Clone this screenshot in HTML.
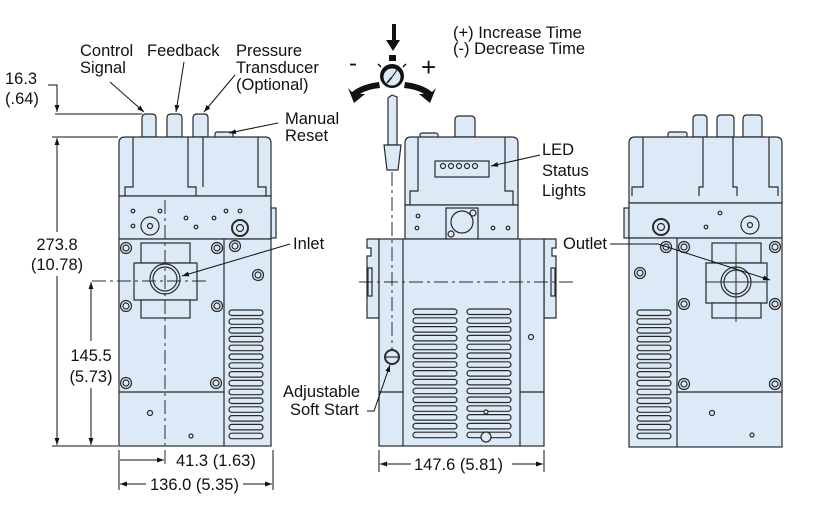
<!DOCTYPE html>
<html><head><meta charset="utf-8"><style>
html,body{margin:0;padding:0;background:#fff;}
svg{display:block;}
text{font-family:"Liberation Sans",Arial,sans-serif;font-size:16.5px;fill:#111;}
</style></head><body>
<svg width="816" height="509" viewBox="0 0 816 509" xmlns="http://www.w3.org/2000/svg">
<defs>
<marker id="ar" viewBox="0 0 10 10" refX="10" refY="5" markerWidth="7" markerHeight="7" orient="auto-start-reverse"><path d="M0,1.5 L10,5 L0,8.5 z" fill="#111"/></marker>
<g id="vent34">
<rect x="0" y="0" width="34" height="5.5" rx="2.75"/><rect x="0" y="8.8" width="34" height="5.5" rx="2.75"/><rect x="0" y="17.6" width="34" height="5.5" rx="2.75"/><rect x="0" y="26.4" width="34" height="5.5" rx="2.75"/><rect x="0" y="35.2" width="34" height="5.5" rx="2.75"/><rect x="0" y="44" width="34" height="5.5" rx="2.75"/><rect x="0" y="52.8" width="34" height="5.5" rx="2.75"/><rect x="0" y="61.6" width="34" height="5.5" rx="2.75"/><rect x="0" y="70.4" width="34" height="5.5" rx="2.75"/><rect x="0" y="79.2" width="34" height="5.5" rx="2.75"/><rect x="0" y="88" width="34" height="5.5" rx="2.75"/><rect x="0" y="96.8" width="34" height="5.5" rx="2.75"/><rect x="0" y="105.6" width="34" height="5.5" rx="2.75"/><rect x="0" y="114.4" width="34" height="5.5" rx="2.75"/><rect x="0" y="123.2" width="34" height="5.5" rx="2.75"/>
</g>
<g id="vent44">
<rect x="0" y="0" width="44" height="5.5" rx="2.75"/><rect x="0" y="8.8" width="44" height="5.5" rx="2.75"/><rect x="0" y="17.6" width="44" height="5.5" rx="2.75"/><rect x="0" y="26.4" width="44" height="5.5" rx="2.75"/><rect x="0" y="35.2" width="44" height="5.5" rx="2.75"/><rect x="0" y="44" width="44" height="5.5" rx="2.75"/><rect x="0" y="52.8" width="44" height="5.5" rx="2.75"/><rect x="0" y="61.6" width="44" height="5.5" rx="2.75"/><rect x="0" y="70.4" width="44" height="5.5" rx="2.75"/><rect x="0" y="79.2" width="44" height="5.5" rx="2.75"/><rect x="0" y="88" width="44" height="5.5" rx="2.75"/><rect x="0" y="96.8" width="44" height="5.5" rx="2.75"/><rect x="0" y="105.6" width="44" height="5.5" rx="2.75"/><rect x="0" y="114.4" width="44" height="5.5" rx="2.75"/><rect x="0" y="123.2" width="44" height="5.5" rx="2.75"/>
</g>
<g id="bolt"><circle r="5.5"/><circle r="3"/></g>
</defs>

<g fill="#dce9f7" stroke="#2a2a2a" stroke-width="1.2">
<!-- LEFT VIEW -->
<path d="M142,137 V118 q0,-4 4,-4 h6 q4,0 4,4 V137 Z"/>
<path d="M167,137 V118 q0,-4 4,-4 h7 q4,0 4,4 V137 Z"/>
<path d="M193,137 V118 q0,-4 4,-4 h7 q4,0 4,4 V137 Z"/>
<rect x="215" y="132" width="18" height="6" rx="2"/>
<path d="M119,196 V143 q0,-6 6,-6 H265 q6,0 6,6 V196 Z"/>
<rect x="271" y="208" width="5" height="30"/>
<rect x="119" y="196" width="152" height="43"/>
<rect x="119" y="239" width="152" height="207"/>
<line x1="224" y1="239" x2="224" y2="446"/>
<line x1="119" y1="392" x2="224" y2="392"/>
<path d="M133,137 V187 H125 V196 M258,137 V187 H266 V196 M188,137 V187 H196 V196 M203,137 V187" fill="none"/>
<rect x="141" y="243" width="49" height="20"/>
<path d="M134,263 H197 V300 H134 Z"/>
<rect x="141" y="300" width="49" height="18"/>
<circle cx="165" cy="279" r="15"/><circle cx="165" cy="279" r="12"/>
<circle cx="150" cy="226" r="9"/><circle cx="150" cy="226" r="2.5"/>
<circle cx="240" cy="228" r="8" stroke-width="2"/><circle cx="240" cy="228" r="3.5"/>
<use href="#bolt" x="126" y="248"/><use href="#bolt" x="217" y="248"/><use href="#bolt" x="235" y="246"/><use href="#bolt" x="258" y="275"/>
<use href="#bolt" x="126" y="306"/><use href="#bolt" x="217" y="306"/><use href="#bolt" x="126" y="383"/><use href="#bolt" x="216" y="383"/>
<circle cx="133" cy="211" r="1.8"/><circle cx="160" cy="211" r="1.8"/><circle cx="186" cy="218" r="1.8"/><circle cx="196" cy="227" r="1.8"/><circle cx="214" cy="218" r="1.8"/><circle cx="226" cy="211" r="1.8"/><circle cx="240" cy="211" r="1.8"/><circle cx="133" cy="226" r="1.8"/>
<circle cx="150" cy="413" r="2.5"/><circle cx="191" cy="436" r="2"/>
<use href="#vent34" x="229" y="310"/>

<!-- MIDDLE VIEW -->
<path d="M455,137 V120 q0,-4 4,-4 h12 q4,0 4,4 V137 Z"/>
<rect x="420" y="133" width="18" height="5" rx="2"/>
<path d="M405,205 V143 q0,-6 6,-6 H512 q6,0 6,6 V205 Z"/>
<rect x="405" y="205" width="113" height="34"/>
<path d="M418,137 V191 H410 V205 M505,137 V191 H513 V205" fill="none"/>
<rect x="435" y="161" width="54" height="16"/>
<circle cx="443" cy="166" r="2.5"/><circle cx="451" cy="166" r="2.5"/><circle cx="459" cy="166" r="2.5"/><circle cx="467" cy="166" r="2.5"/><circle cx="475" cy="166" r="2.5"/>
<rect x="446" y="208" width="32" height="31"/><circle cx="462" cy="222" r="11"/>
<circle cx="473" cy="213" r="3"/><circle cx="451" cy="234" r="3"/>
<circle cx="418" cy="216" r="1.8"/><circle cx="417" cy="228" r="1.8"/><circle cx="493" cy="228" r="1.8"/><circle cx="508" cy="228" r="1.8"/>
<path d="M379,239 H367 V248 H371 V256 H367 V318 H379 Z"/>
<path d="M544,239 H556 V248 H552 V256 H556 V318 H544 Z"/>
<rect x="368" y="268" width="4" height="28"/><rect x="551" y="268" width="4" height="28"/>
<rect x="379" y="239" width="165" height="207"/>
<line x1="403" y1="239" x2="403" y2="446"/><line x1="520" y1="239" x2="520" y2="446"/>
<line x1="379" y1="392" x2="403" y2="392"/><line x1="520" y1="392" x2="544" y2="392"/>
<use href="#vent44" x="413" y="309"/><use href="#vent44" x="467" y="309"/>
<circle cx="531" cy="337" r="2.5"/><circle cx="486" cy="437" r="5"/><circle cx="486" cy="412" r="2"/>
<circle cx="392" cy="357" r="7" stroke-width="2"/><line x1="385" y1="357" x2="399" y2="357"/>

<!-- RIGHT VIEW -->
<path d="M693,137 V119 q0,-4 4,-4 h6 q4,0 4,4 V137 Z"/>
<path d="M717,137 V119 q0,-4 4,-4 h9 q4,0 4,4 V137 Z"/>
<path d="M743,137 V119 q0,-4 4,-4 h11 q4,0 4,4 V137 Z"/>
<rect x="668" y="132" width="19" height="6" rx="2"/>
<path d="M629,203 V143 q0,-6 6,-6 H776 q6,0 6,6 V203 Z"/>
<rect x="624" y="208" width="5" height="30"/>
<rect x="629" y="203" width="153" height="35"/>
<path d="M643,137 V187 H632 V196 M769,137 V187 H778 V196 M703,137 V187 H699 V196 M733,137 V187 H737 V196" fill="none"/>
<rect x="629" y="238" width="153" height="209"/>
<line x1="677" y1="238" x2="677" y2="447"/><line x1="677" y1="392" x2="782" y2="392"/>
<rect x="712" y="243" width="49" height="20"/>
<path d="M706,263 H767 V303 H706 Z"/>
<rect x="712" y="303" width="49" height="15"/>
<circle cx="736" cy="282" r="15"/><circle cx="736" cy="282" r="12"/>
<circle cx="661" cy="227" r="8" stroke-width="2"/><circle cx="661" cy="227" r="3.5"/>
<circle cx="750" cy="225" r="9"/><circle cx="750" cy="225" r="2.5"/>
<circle cx="720" cy="213" r="1.8"/><circle cx="706" cy="227" r="1.8"/>
<use href="#bolt" x="666" y="247"/><use href="#bolt" x="684" y="247"/><use href="#bolt" x="775" y="247"/><use href="#bolt" x="640" y="273"/>
<use href="#bolt" x="684" y="304"/><use href="#bolt" x="775" y="304"/><use href="#bolt" x="684" y="384"/><use href="#bolt" x="775" y="384"/>
<circle cx="712" cy="413" r="2.5"/><circle cx="752" cy="435" r="2"/>
<use href="#vent34" x="637" y="310"/>
</g>

<!-- center lines -->
<g stroke="#2a2a2a" stroke-width="1" fill="none" stroke-dasharray="14,4,3,4">
<line x1="165" y1="200" x2="165" y2="466"/>
<line x1="92" y1="281" x2="207" y2="281"/>
<line x1="359" y1="282" x2="573" y2="282"/>
<line x1="392" y1="172" x2="392" y2="350"/>
</g>
<g stroke="#2a2a2a" stroke-width="1">
<line x1="706" y1="282" x2="766" y2="282"/><line x1="736" y1="243" x2="736" y2="322"/>
</g>

<!-- screwdriver + dial -->
<g stroke="#2a2a2a" stroke-width="1.2" fill="#dce9f7">
<path d="M388,98 L392,95 L397,97 V145 H388 Z"/>
<path d="M384,145 H401 L398,170 H387 Z"/>
</g>
<path d="M392,24 V40 H386 L393,51 L400,40 H396 V24 Z" fill="#111"/>
<rect x="389" y="55" width="7" height="6" fill="#111"/>
<path d="M379,82 Q362,84 352,92 L348,88 L354,103 L365,94 L360,94 Q368,89 380,88 Z" fill="#111"/>
<path d="M405,82 Q422,84 432,92 L436,88 L430,103 L419,94 L424,94 Q416,89 404,88 Z" fill="#111"/>
<circle cx="392" cy="76" r="12" fill="#111"/><circle cx="392" cy="77" r="8.5" fill="#dce9f7"/>
<line x1="392" y1="77" x2="387" y2="83" stroke="#111" stroke-width="1.5"/><line x1="392" y1="77" x2="397" y2="70" stroke="#111" stroke-width="1"/>
<line x1="378" y1="64" x2="381" y2="67" stroke="#111" stroke-width="1.5"/><line x1="406" y1="64" x2="403" y2="67" stroke="#111" stroke-width="1.5"/>
<text x="349" y="71" style="font-size:24px">-</text>
<text x="421" y="76" style="font-size:26px">+</text>

<!-- dimension lines -->
<g stroke="#111" stroke-width="1" fill="none">
<path d="M48,85 H57 V112" marker-end="url(#ar)"/>
<line x1="55" y1="114" x2="142" y2="114"/>
<line x1="52" y1="137" x2="118" y2="137"/>
<line x1="52" y1="446" x2="118" y2="446"/>
<line x1="57" y1="232" x2="57" y2="138" marker-end="url(#ar)"/>
<line x1="57" y1="276" x2="57" y2="445" marker-end="url(#ar)"/>
<line x1="91" y1="341" x2="91" y2="282" marker-end="url(#ar)"/>
<line x1="91" y1="388" x2="91" y2="445" marker-end="url(#ar)"/>
<line x1="119" y1="450" x2="119" y2="490"/><line x1="273" y1="450" x2="273" y2="490"/>
<line x1="120" y1="460" x2="164" y2="460" marker-end="url(#ar)"/>
<line x1="146" y1="484" x2="120" y2="484" marker-end="url(#ar)"/>
<line x1="243" y1="484" x2="272" y2="484" marker-end="url(#ar)"/>
<line x1="379" y1="450" x2="379" y2="472"/><line x1="544" y1="450" x2="544" y2="472"/>
<line x1="411" y1="464" x2="380" y2="464" marker-end="url(#ar)"/>
<line x1="512" y1="464" x2="543" y2="464" marker-end="url(#ar)"/>
<!-- leaders -->
<line x1="110" y1="82" x2="144" y2="112" marker-end="url(#ar)"/>
<line x1="184" y1="62" x2="176" y2="112" marker-end="url(#ar)"/>
<line x1="235" y1="75" x2="204" y2="112" marker-end="url(#ar)"/>
<line x1="278" y1="123" x2="229" y2="133" marker-end="url(#ar)"/>
<line x1="290" y1="244" x2="182" y2="276" marker-end="url(#ar)"/>
<line x1="540" y1="155" x2="491" y2="166" marker-end="url(#ar)"/>
<path d="M610,244 H658 L770,280" marker-end="url(#ar)"/>
<path d="M367,411 H374 L390,365" marker-end="url(#ar)"/>
</g>

<!-- text -->
<text x="80" y="56">Control</text><text x="80" y="73">Signal</text>
<text x="147" y="56">Feedback</text>
<text x="236" y="56">Pressure</text><text x="236" y="73">Transducer</text><text x="236" y="90">(Optional)</text>
<text x="285" y="124">Manual</text><text x="285" y="141">Reset</text>
<text x="5" y="84">16.3</text><text x="5" y="104">(.64)</text>
<text x="57" y="250" text-anchor="middle">273.8</text><text x="57" y="270" text-anchor="middle">(10.78)</text>
<text x="91" y="361" text-anchor="middle">145.5</text><text x="91" y="382" text-anchor="middle">(5.73)</text>
<text x="293" y="249">Inlet</text>
<text x="176" y="466">41.3 (1.63)</text>
<text x="150" y="490">136.0 (5.35)</text>
<text x="453" y="38">(+) Increase Time</text><text x="453" y="54">(-) Decrease Time</text>
<text x="542" y="155">LED</text><text x="542" y="176">Status</text><text x="542" y="196">Lights</text>
<text x="563" y="249">Outlet</text>
<text x="283" y="397">Adjustable</text><text x="290" y="415">Soft Start</text>
<text x="414" y="470">147.6 (5.81)</text>
</svg>
</body></html>
